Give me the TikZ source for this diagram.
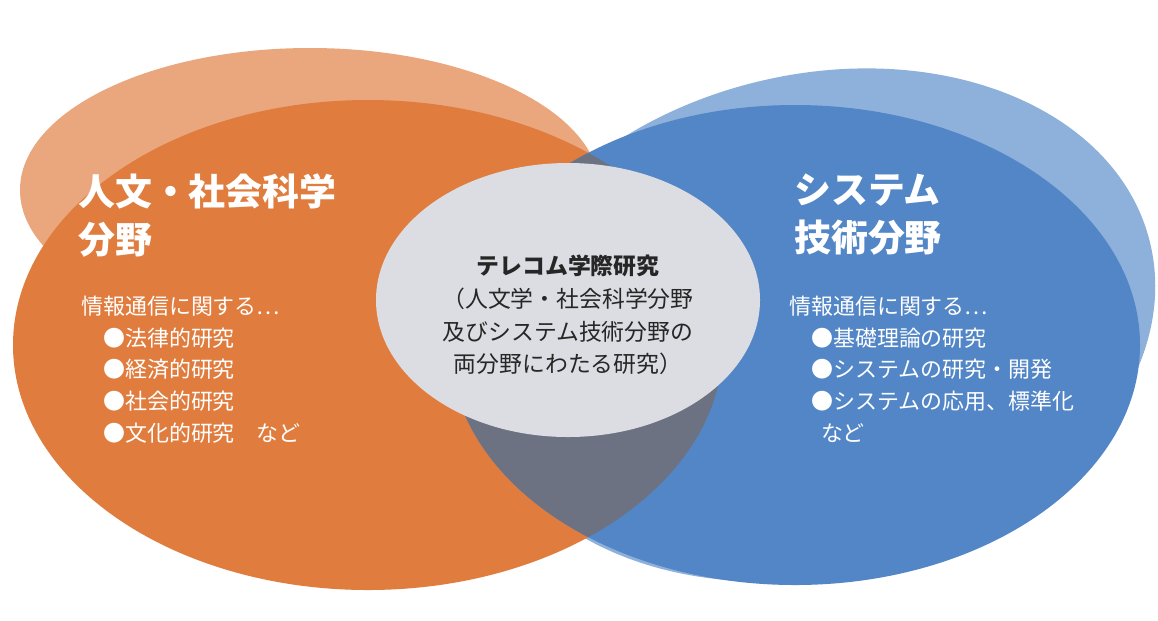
\documentclass[tikz,border=0pt]{standalone}
\usepackage{fontspec}
\setmainfont{Noto Sans CJK JP}
\definecolor{orangelight}{HTML}{EAA67C}
\definecolor{orangedark}{HTML}{E07D3E}
\definecolor{bluelight}{HTML}{8EB1DC}
\definecolor{bluedark}{HTML}{5286C6}
\definecolor{overlapgray}{HTML}{6D7282}
\definecolor{centergray}{HTML}{DCDDE2}
\begin{document}
\begin{tikzpicture}[x=0.02cm,y=-0.02cm,
  title/.style={text=white,font=\bfseries\fontsize{21}{27}\selectfont,anchor=north west,align=left},
  body/.style={text=white,font=\fontsize{12.5}{18}\selectfont,anchor=north west,align=left},
  center/.style={text=black!85,font=\fontsize{13}{18.5}\selectfont,align=center}]
  \useasboundingbox[fill=white] (0,0) rectangle (1158,620);
  % back ellipses
  \fill[orangelight] (310,190) ellipse [x radius=290, y radius=142];
  \fill[bluelight,rotate around={14:(815,325)}] (815,325) ellipse [x radius=345, y radius=250];
  % front ellipses
  \fill[orangedark] (368,345) ellipse [x radius=355, y radius=245];
  \fill[bluedark] (795,345) ellipse [x radius=345, y radius=240];
  \begin{scope}
    \clip (368,345) ellipse [x radius=355, y radius=245];
    \fill[overlapgray] (795,345) ellipse [x radius=345, y radius=240];
  \end{scope}
  \fill[centergray] (568,300) ellipse [x radius=192, y radius=137];
  % texts
  \node[title] (lt) at (72,168) {人文・社会科学\\分野};
  \node[body] (lb) at (75,290) {情報通信に関する…\\
    \quad ●法律的研究\\ \quad ●経済的研究\\ \quad ●社会的研究\\ \quad ●文化的研究\quad など};
  \node[title] (rt) at (788,168) {システム\\技術分野};
  \node[body] (rb) at (783,290) {情報通信に関する…\\
    \quad ●基礎理論の研究\\ \quad ●システムの研究・開発\\ \quad ●システムの応用、標準化\\ \quad\ \ など};
  \node[center] (ct) at (568,315) {\textbf{テレコム学際研究}\\（人文学・社会科学分野\\及びシステム技術分野の\\両分野にわたる研究）};
\end{tikzpicture}
\end{document}
